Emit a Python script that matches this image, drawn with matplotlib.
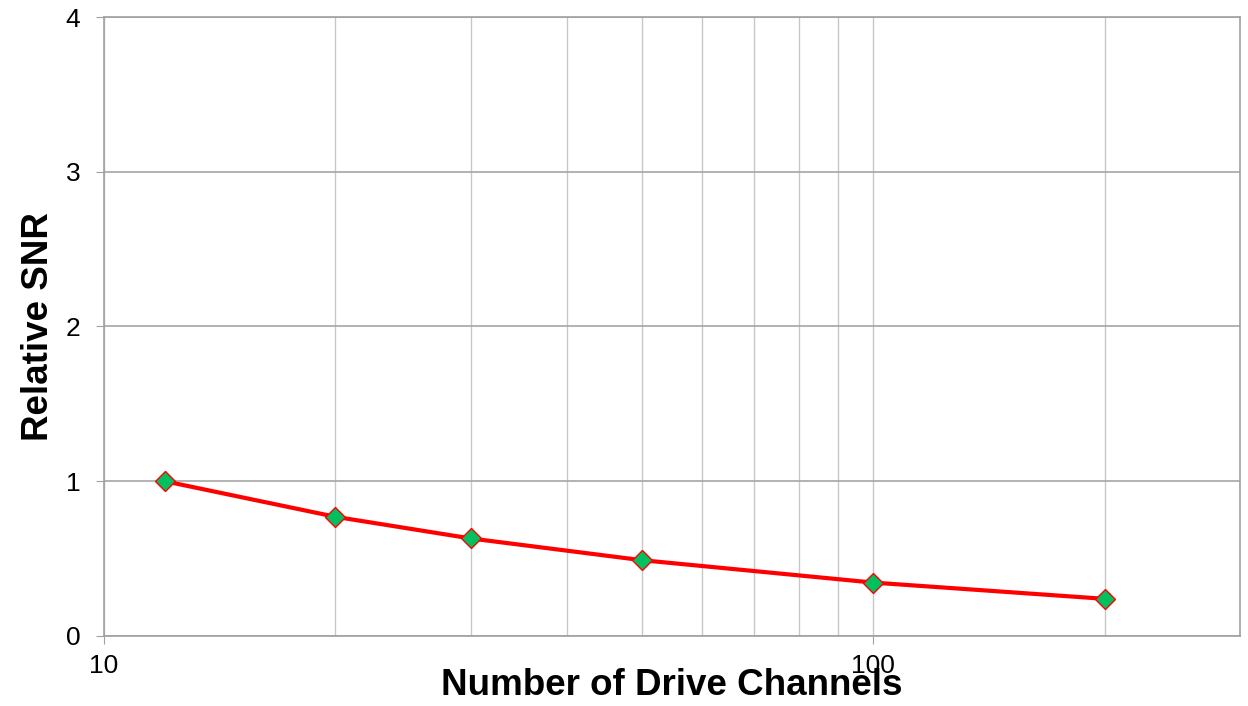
import matplotlib
matplotlib.use("Agg")
from matplotlib import pyplot as plt
from matplotlib.ticker import FixedLocator, NullFormatter

plt.rcParams['font.family'] = ['Liberation Sans', 'DejaVu Sans']

channels = [12, 20, 30, 50, 100, 200]
rel_snr = [1.0, 0.77, 0.63, 0.49, 0.345, 0.24]

fig = plt.figure(figsize=(12.48, 7.06), dpi=100)
ax = fig.add_axes([0.0833, 0.0992, 0.9103, 0.8767])

ax.plot(channels, rel_snr, color='#ff0000', linewidth=3,
        marker='D', markersize=10, markerfacecolor='#00c060',
        markeredgecolor='#ff0000', markeredgewidth=1, zorder=3)

ax.set_xscale('log')
ax.set_xlim(10, 300)
ax.set_ylim(0, 4)
ax.set_yticks([0, 1, 2, 3, 4])
ax.set_xticks([10, 100])
ax.set_xticklabels(['10', '100'])
ax.xaxis.set_minor_locator(FixedLocator([20, 30, 40, 50, 60, 70, 80, 90, 200]))
ax.xaxis.set_minor_formatter(NullFormatter())

ax.grid(True, which='major', axis='y', color='#a6a6a6', linewidth=1.2)
ax.grid(True, which='both', axis='x', color='#c8c8c8', linewidth=1)
ax.set_axisbelow(True)

for s in ax.spines.values():
    s.set_color('#a0a0a0')
    s.set_linewidth(1.2)

ax.tick_params(axis='x', which='major', direction='out', length=6,
               color='#a0a0a0', labelsize=19, pad=7)
ax.tick_params(axis='x', which='minor', length=0)
ax.tick_params(axis='y', direction='out', length=6, color='#a0a0a0',
               labelsize=19, pad=11)

ax.set_xlabel('Number of Drive Channels', fontsize=26.5, fontweight='bold')
ax.set_ylabel('Relative SNR', fontsize=26.5, fontweight='bold')
ax.xaxis.set_label_coords(0.5, -0.052)
ax.yaxis.set_label_coords(-0.042, 0.5)

fig.savefig('out.png', dpi=100)
